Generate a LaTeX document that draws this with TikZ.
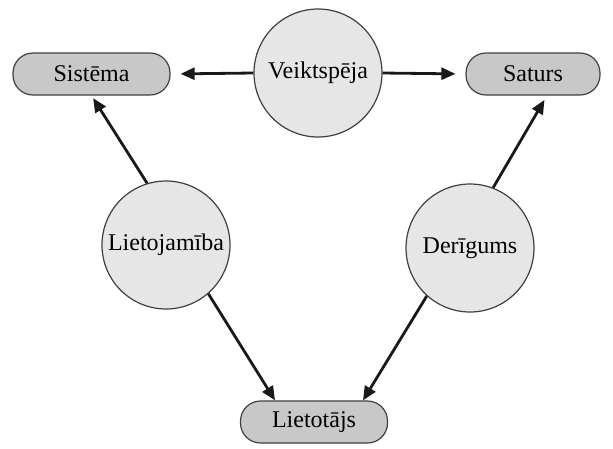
\documentclass[tikz,border=0pt]{standalone}
\usepackage{fontspec}
\setmainfont{Liberation Serif}
\usetikzlibrary{arrows.meta}
\definecolor{boxfill}{HTML}{C8C8C8}
\definecolor{circfill}{HTML}{E6E6E6}
\definecolor{edge}{HTML}{404040}
\begin{document}
\begin{tikzpicture}[x=1pt,y=-1pt,
  boxnode/.style={draw=edge, line width=1.2pt, fill=boxfill, rounded corners=20pt,
    minimum height=42pt, inner sep=0pt, font=\fontsize{24}{28}\selectfont},
  circnode/.style={circle, draw=edge, line width=1.2pt, fill=circfill,
    minimum size=128pt, inner sep=0pt, font=\fontsize{24}{28}\selectfont},
  conn/.style={line width=2.8pt, -{Triangle[length=14pt,width=12pt]}, color=black!90}]
\useasboundingbox (0,0) rectangle (613,448);
\node[boxnode, minimum width=157pt] (S) at (91.5,74) {Sistēma};
\node[boxnode, minimum width=134pt] (Sa) at (533,74) {Saturs};
\node[boxnode, minimum width=147pt] (Lt) at (314,422) {Lietotājs};
\node[circnode] (V) at (318,73) {Veiktspēja};
\node[circnode] (L) at (166,245) {Lietojamība};
\node[circnode] (D) at (470,248) {Derīgums};
\draw[conn, shorten >=10pt] (V.west) -- (S.east);
\draw[conn, shorten >=10pt] (V.east) -- (Sa.west);
\draw[conn, shorten >=3pt] (L.107) -- (S.south);
\draw[conn, shorten >=5pt] (D.69) -- ([xshift=14pt]Sa.south);
\draw[conn] (L.-49) -- ([xshift=-39pt]Lt.north);
\draw[conn] (D.-132) -- ([xshift=49pt]Lt.north);
\end{tikzpicture}
\end{document}
